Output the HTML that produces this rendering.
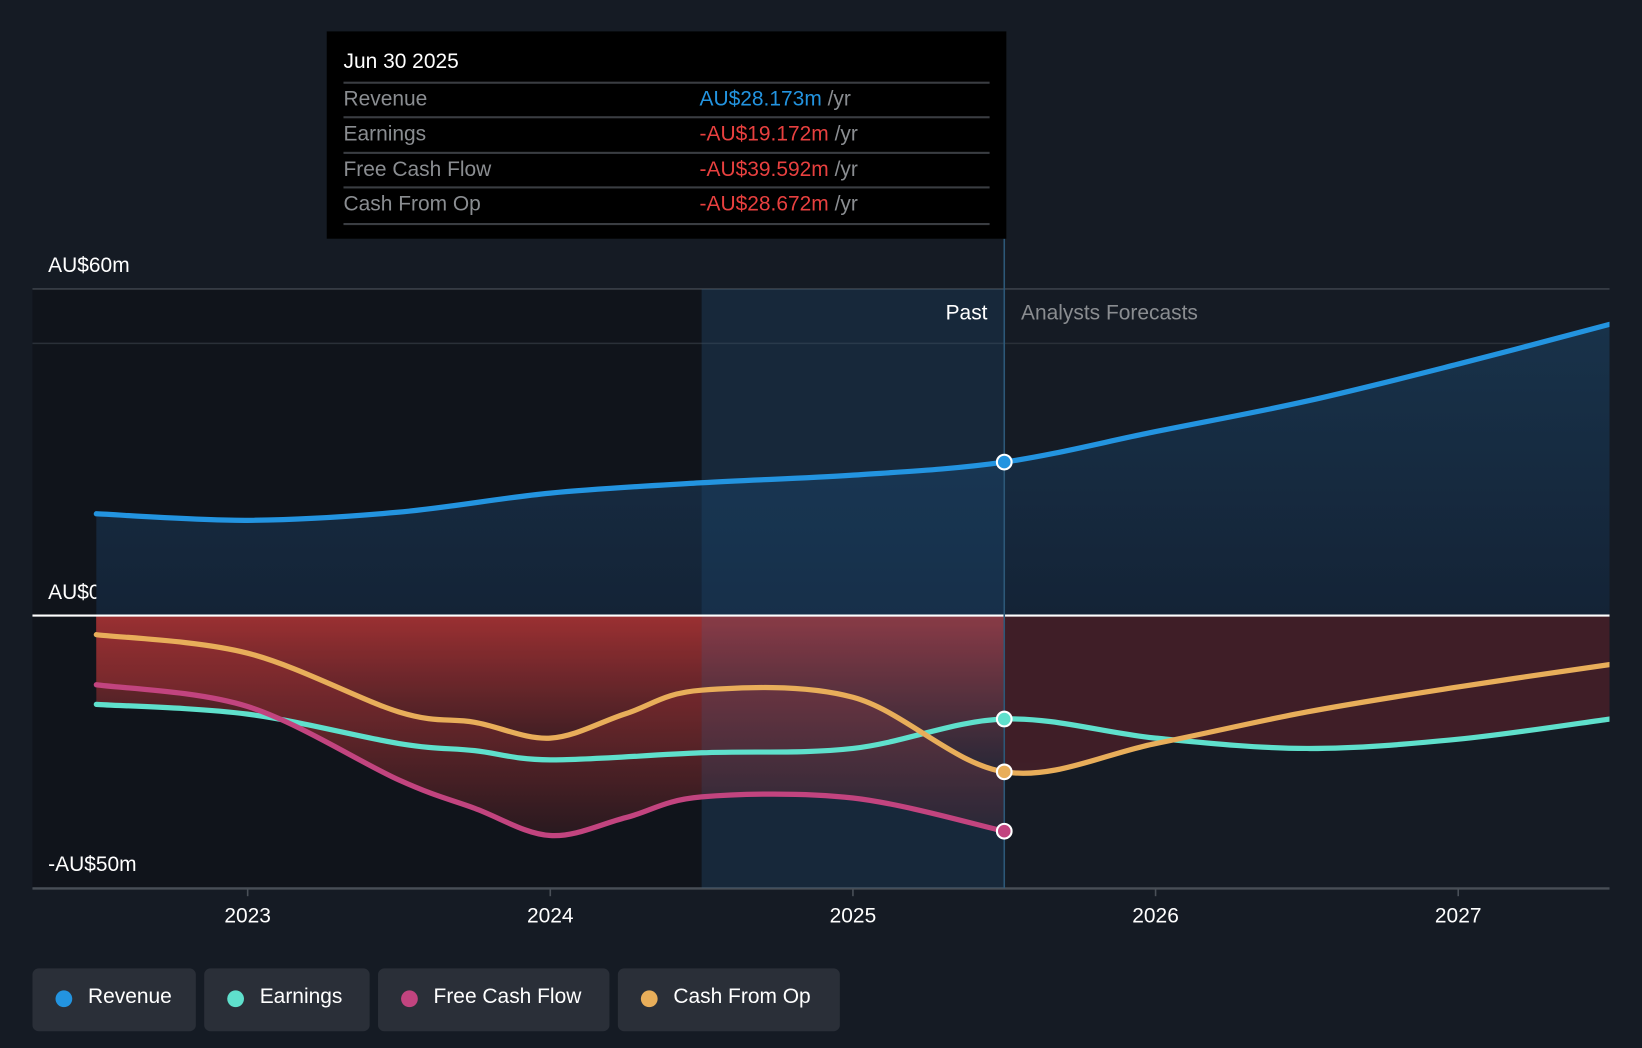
<!DOCTYPE html>
<html><head><meta charset="utf-8"><style>
html,body{margin:0;padding:0;background:#151b24;overflow:hidden;width:1642px;height:1048px}
#wrap{position:absolute;left:0;top:0;width:1568px;height:1001px;transform-origin:0 0;transform:scale(1.04719,1.04695);font-family:"Liberation Sans",sans-serif}
.tt{position:absolute;left:312px;top:30px;width:649px;height:198px;background:#000}
.tt .d{position:absolute;left:16px;top:18px;color:#fff;font-size:20px}
.row{position:absolute;left:16px;width:617px;height:33px;border-top:2px solid #3a3d42;font-size:20px;color:#8a8d91}
.row span.l{position:absolute;left:0;top:4px}
.row span.v{position:absolute;left:340px;top:4px}
.row:last-child{border-bottom:2px solid #3a3d42}
.leg{position:absolute;top:925px;height:60px;background:#2a2f38;border-radius:6px;color:#fff;font-size:20px}
.leg i{position:absolute;left:22px;top:21px;width:16px;height:16px;border-radius:50%}
.leg span{position:absolute;left:53px;top:16px}
</style></head><body>
<div id="wrap">
<svg id="chart" width="1568" height="1001" style="position:absolute;left:0;top:0"></svg>
<div class="tt">
<div class="d">Jun 30 2025</div>
<div class="row" style="top:48px"><span class="l">Revenue</span><span class="v"><b style="font-weight:normal;color:#2394e0">AU$28.173m</b> /yr</span></div>
<div class="row" style="top:81px"><span class="l">Earnings</span><span class="v"><b style="font-weight:normal;color:#e8403f">-AU$19.172m</b> /yr</span></div>
<div class="row" style="top:115px"><span class="l">Free Cash Flow</span><span class="v"><b style="font-weight:normal;color:#e8403f">-AU$39.592m</b> /yr</span></div>
<div class="row" style="top:148px"><span class="l">Cash From Op</span><span class="v"><b style="font-weight:normal;color:#e8403f">-AU$28.672m</b> /yr</span></div>
</div>
<div class="leg" style="left:31px;width:156px"><i style="background:#2394e0"></i><span>Revenue</span></div>
<div class="leg" style="left:195px;width:158px"><i style="background:#5fe0cc"></i><span>Earnings</span></div>
<div class="leg" style="left:361px;width:221px"><i style="background:#c2447f"></i><span>Free Cash Flow</span></div>
<div class="leg" style="left:590px;width:212px"><i style="background:#e8ae5a"></i><span>Cash From Op</span></div>
</div>
<script>
const revX=[2022.5,2023,2023.5,2024,2024.5,2025,2025.5,2026,2026.5,2027,2027.5];
const revY=[18.7,17.5,19,22.5,24.4,25.8,28.2,33.8,39.4,46.2,53.5];
const earnX=[2022.5,2023,2023.5,2023.75,2024,2024.5,2025,2025.5,2026,2026.5,2027,2027.5];
const earnY=[-16.3,-18.1,-23.5,-24.8,-26.5,-25.2,-24.4,-19.0,-22.5,-24.4,-22.7,-19.0];
const fcfX=[2022.5,2023,2023.5,2023.75,2024,2024.25,2024.5,2025,2025.5];
const fcfY=[-12.7,-16.7,-30.2,-35.4,-40.4,-37.1,-33.3,-33.5,-39.6];
const cfoX=[2022.5,2023,2023.5,2023.75,2024,2024.25,2024.5,2025,2025.5,2026,2026.5,2027,2027.5];
const cfoY=[-3.5,-6.9,-17.7,-19.6,-22.5,-18,-13.7,-15,-28.7,-23.5,-17.7,-13.1,-9];
const xTicks=[2023,2024,2025,2026,2027];
const yTicks=[60,0,-50];
const yTickLabels=["AU$60m","AU$0","-AU$50m"];

const NS="http://www.w3.org/2000/svg";
const svg=document.getElementById('chart');
const X=t=>92+(t-2022.5)*289;
const Y=v=>588-v*5.2;
function mk(tag,a,parent){const e=document.createElementNS(NS,tag);for(const k in a)e.setAttribute(k,a[k]);(parent||svg).appendChild(e);return e;}
function path(xs,ys){const p=xs.map((x,i)=>[X(x),Y(ys[i])]);let d=`M${p[0][0]},${p[0][1]}`;
 for(let i=0;i<p.length-1;i++){const p0=p[Math.max(0,i-1)],p1=p[i],p2=p[i+1],p3=p[Math.min(p.length-1,i+2)];
 d+=` C${p1[0]+(p2[0]-p0[0])/6},${p1[1]+(p2[1]-p0[1])/6} ${p2[0]-(p3[0]-p1[0])/6},${p2[1]-(p3[1]-p1[1])/6} ${p2[0]},${p2[1]}`;}return d;}
function area(xs,ys){return path(xs,ys)+` L${X(xs[xs.length-1])},${Y(0)} L${X(xs[0])},${Y(0)} Z`;}

const defs=mk('defs',{});
defs.innerHTML=`<linearGradient id="rg" x1="0" y1="0" x2="0" y2="1"><stop offset="0" stop-color="#a33234"/><stop offset="1" stop-color="#2a1a20"/></linearGradient>
<linearGradient id="bg" x1="0" y1="0" x2="0" y2="1"><stop offset="0" stop-color="#18324a"/><stop offset="1" stop-color="#142336"/></linearGradient>
<clipPath id="past"><rect x="0" y="0" width="${X(2025.5)}" height="1001"/></clipPath>
<clipPath id="fut"><rect x="${X(2025.5)}" y="0" width="${1537-X(2025.5)}" height="1001"/></clipPath>
<clipPath id="plot"><rect x="31" y="0" width="1506" height="1001"/></clipPath>`;

let r=mk('rect',{x:31,y:276,width:X(2024.5)-31,height:573,fill:'#10141b'});

yTicks.forEach((v,i)=>{
 if(v!==0){let l=mk('line',{x1:31,x2:1537,y1:Y(v),y2:Y(v),stroke:'#3a4048','stroke-width':1.5});
 }
 let t=mk('text',{x:46,y:Y(v)-16,fill:'#fff','font-size':20});
 t.textContent=yTickLabels[i];
 
});
let g50=mk('line',{x1:31,x2:1537,y1:Y(50),y2:Y(50),stroke:'#2a3038','stroke-width':1.5});


let ra=mk('path',{d:area(revX,revY),fill:'url(#bg)','clip-path':'url(#plot)'});

let gp=mk('g',{'clip-path':'url(#past)',opacity:0.95});

[[earnX,earnY],[fcfX,fcfY],[cfoX,cfoY]].forEach(s=>mk('path',{d:area(s[0],s[1]),fill:'url(#rg)'},gp));
let gf=mk('g',{'clip-path':'url(#fut)',opacity:0.8});

[[earnX,earnY],[cfoX,cfoY]].forEach(s=>mk('path',{d:area(s[0],s[1]),fill:'#4a2029'},gf));

let hl=mk('rect',{x:X(2024.5),y:276,width:X(2025.5)-X(2024.5),height:573,fill:'rgba(40,120,190,0.15)'});

let zl=mk('line',{x1:31,x2:1537,y1:Y(0),y2:Y(0),stroke:'#ffffff','stroke-width':2});

let vl=mk('line',{x1:X(2025.5),x2:X(2025.5),y1:228,y2:849,stroke:'#2d5878','stroke-width':1.5});


const series=[['revenue',revX,revY,'#2394e0'],['earnings',earnX,earnY,'#5fe0cc'],['free-cash-flow',fcfX,fcfY,'#c2447f'],['cash-from-op',cfoX,cfoY,'#e8ae5a']];
series.forEach(s=>{
 let p=mk('path',{d:path(s[1],s[2]),fill:'none',stroke:s[3],'stroke-width':5,'stroke-linecap':'round','clip-path':'url(#plot)'});
 
});
series.forEach(s=>{
 const i=s[1].indexOf(2025.5);
 let c=mk('circle',{cx:X(2025.5),cy:Y(s[2][i]),r:7,fill:s[3],stroke:'#fff','stroke-width':2});
 
});
let ax=mk('line',{x1:31,x2:1537,y1:849,y2:849,stroke:'#4a5058','stroke-width':1.5});

xTicks.forEach(t=>{
 let tk=mk('line',{x1:X(t),x2:X(t),y1:849,y2:856,stroke:'#4a5058','stroke-width':1.5});
 
 let tx=mk('text',{x:X(t),y:881,fill:'#fff','font-size':20,'text-anchor':'middle'});tx.textContent=t;
 
});
let pt=mk('text',{x:943,y:305,fill:'#fff','font-size':20,'text-anchor':'end'});pt.textContent='Past';

let ft=mk('text',{x:975,y:305,fill:'#8a8d91','font-size':20});ft.textContent='Analysts Forecasts';

</script>
</body></html>
